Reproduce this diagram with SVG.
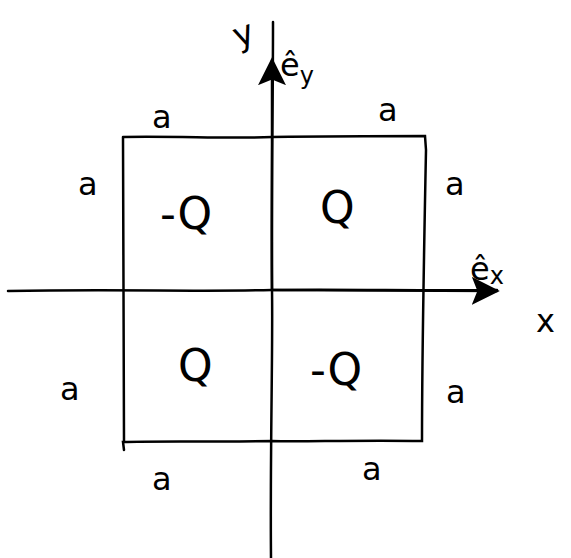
<svg xmlns="http://www.w3.org/2000/svg" width="571" height="558" viewBox="0 0 571 558">
<style>
.ln{stroke:#000;stroke-width:2.5;fill:none;stroke-linecap:round}
.t{font-family:"DejaVu Sans","Liberation Sans",sans-serif;fill:#000}
.a{font-size:32px}
.q{font-size:44px}
</style>
<defs>
<marker id="ahb" viewBox="0 0 10 10" refX="9" refY="5" markerWidth="28" markerHeight="28" markerUnits="userSpaceOnUse" orient="auto">
<path d="M0,0 L10,5 L0,10 L2,5 Z" fill="#000"/>
</marker>
</defs>
<rect width="571" height="558" fill="#fff"/>
<g id="connectors">
<path class="ln" d="M8,291 C120,289 200,292 272,290 C350,289 420,291 497,290"/>
<path class="ln" d="M272,290 L497,291" stroke-width="4" marker-end="url(#ahb)"/>
<path class="ln" d="M271,558 C270,450 273,350 272,290 C271,200 273,120 273,22"/>
<path class="ln" d="M272,290 L272,60" stroke-width="4" marker-end="url(#ahb)"/>
</g>
<g id="square">
<path class="ln" d="M123,137 C180,136 230,139 272,137 C340,136 390,136 425,136 L426,150 C424,250 422,350 422,441 C350,440 300,442 272,441 C200,442 150,441 123,442 L124,450 M123,137 C124,250 123,350 124,442"/>
</g>
<g id="axis-labels">
<text class="t" x="232" y="44" font-size="34" transform="rotate(-20 246 30)">y</text>
<text class="t" x="280" y="76" font-size="32">ê<tspan font-size="24" dy="8">y</tspan></text>
<text class="t" x="470" y="280" font-size="32">ê<tspan font-size="24" dy="4">x</tspan></text>
<text class="t" x="536" y="332" font-size="32">x</text>
</g>
<g id="side-labels">
<text class="t a" x="152" y="128">a</text>
<text class="t a" x="378" y="121">a</text>
<text class="t a" x="78" y="195">a</text>
<text class="t a" x="445" y="195">a</text>
<text class="t a" x="60" y="400">a</text>
<text class="t a" x="446" y="403">a</text>
<text class="t a" x="152" y="490">a</text>
<text class="t a" x="362" y="480">a</text>
</g>
<g id="charge-nw"><text class="t q" x="160" y="229">-Q</text></g>
<g id="charge-ne"><text class="t q" x="320" y="223">Q</text></g>
<g id="charge-sw"><text class="t q" x="178" y="381">Q</text></g>
<g id="charge-se"><text class="t q" x="310" y="385">-Q</text></g>
</svg>
